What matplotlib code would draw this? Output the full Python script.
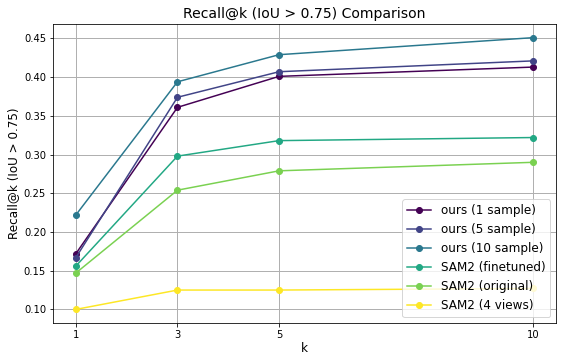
import matplotlib
matplotlib.use("Agg")
import matplotlib.pyplot as plt
import numpy as np

k_values = [1, 3, 5, 10]

ours_1 = [0.172, 0.361, 0.401, 0.413]
ours_5 = [0.167, 0.374, 0.407, 0.421]
ours_10 = [0.222, 0.394, 0.429, 0.451]
sam2_finetuned = [0.156, 0.298, 0.318, 0.322]
sam2_original = [0.147, 0.254, 0.279, 0.290]
sam2_4views = [0.100, 0.125, 0.125, 0.127]

series = [
    ("ours (1 sample)", ours_1),
    ("ours (5 sample)", ours_5),
    ("ours (10 sample)", ours_10),
    ("SAM2 (finetuned)", sam2_finetuned),
    ("SAM2 (original)", sam2_original),
    ("SAM2 (4 views)", sam2_4views),
]

DPI = 72
colors = plt.cm.viridis(np.linspace(0, 1, len(series)))

fig, ax = plt.subplots(figsize=(561 / DPI, 354 / DPI), dpi=DPI)
for (label, values), color in zip(series, colors):
    ax.plot(k_values, values, marker="o", color=color, label=label)

ax.set_xticks(k_values)
ax.tick_params(labelsize=10)
ax.set_xlabel("k", fontsize=12, labelpad=2)
ax.set_ylabel("Recall@k (IoU > 0.75)", fontsize=12)
ax.set_title("Recall@k (IoU > 0.75) Comparison", fontsize=14)
ax.grid(True, linewidth=1.0)
ax.legend(loc="lower right", fontsize=12)
fig.subplots_adjust(left=0.0945, right=0.991, bottom=0.0876, top=0.932)
fig.savefig("out.png", dpi=DPI)
